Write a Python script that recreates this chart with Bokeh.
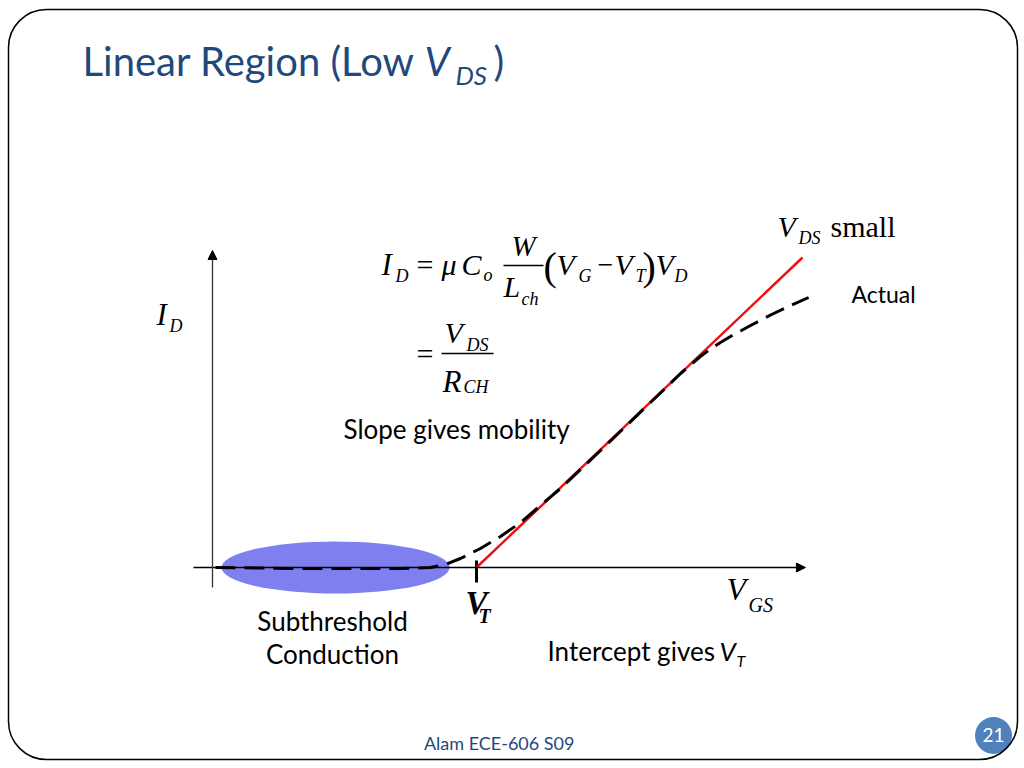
from bokeh.plotting import figure
from bokeh.models import Range1d, Arrow, NormalHead, Label, BoxAnnotation
from bokeh.embed import file_html
from bokeh.resources import INLINE

# ---------------- data (V_GS in volts, I_D in arbitrary units) ----------------
vgs_actual = [0.011, 0.333, 0.712, 0.826, 0.883, 0.939, 1.015, 1.091, 1.167, 1.242,
              1.318, 1.470, 1.659, 1.773, 1.811, 1.848, 1.886, 1.924, 1.962, 2.000,
              2.038, 2.114, 2.189, 2.258]
id_actual = [0.00, -0.01, -0.01, 0.00, 0.03, 0.09, 0.19, 0.31, 0.45, 0.62,
             0.79, 1.17, 1.65, 1.94, 2.025, 2.11, 2.185, 2.25, 2.31, 2.365,
             2.42, 2.525, 2.62, 2.70]
vgs_ideal = [1.0, 2.235]
id_ideal = [0.0, 3.10]
VT = 1.0
subthreshold_center = (0.466, 0.0)
subthreshold_size = (0.864, 0.52)
x_axis_span = (-0.072, 2.246)
y_axis_span = (-0.2, 3.17)

# ---------------- layout helpers ----------------
W, H = 1024, 768
X0, Y0 = 212, 567          # pixel position of the origin
PXV, PXI = 264.0, 100.0    # pixels per unit


def px(xp, yp):
    return ((xp - X0) / PXV, (Y0 - yp) / PXI)


p = figure(width=W, height=H, output_backend="svg", toolbar_location=None,
           x_range=Range1d(-X0 / PXV, (W - X0) / PXV),
           y_range=Range1d(-(H - Y0) / PXI, Y0 / PXI),
           x_axis_location=None, y_axis_location=None, min_border=0)
p.grid.visible = False
p.outline_line_color = None
p.background_fill_color = "white"
p.border_fill_color = "white"

SERIF = "Liberation Serif"
SANS = "Lato"
BLUE = "#1F497D"
BASE_K = 0.37   # compensation for the baseline offset of rendered labels


def lab(xp, yp, text, size, font=SANS, style="normal", color="black", align="left"):
    x, y = px(xp, yp - BASE_K * size)
    p.add_layout(Label(x=x, y=y, text=text, text_font=font, text_font_size=f"{size}px",
                       text_font_style=style, text_color=color, text_align=align,
                       text_baseline="alphabetic"))


# slide border
l, t = px(8, 9)
r, b = px(1017, 759)
p.add_layout(BoxAnnotation(left=l, right=r, top=t, bottom=b, fill_alpha=0,
                           line_color="black", line_alpha=1.0, line_width=1.5,
                           border_radius=38))

# subthreshold ellipse
p.ellipse(x=[subthreshold_center[0]], y=[subthreshold_center[1]],
          width=subthreshold_size[0], height=subthreshold_size[1],
          fill_color="#7F7FEF", line_color=None)

# axes with arrows
p.add_layout(Arrow(end=NormalHead(size=9, fill_color="black", line_color="black"),
                   x_start=x_axis_span[0], y_start=0, x_end=x_axis_span[1], y_end=0,
                   line_color="black", line_width=1.3))
p.add_layout(Arrow(end=NormalHead(size=9, fill_color="black", line_color="black"),
                   x_start=0, y_start=y_axis_span[0], x_end=0, y_end=y_axis_span[1],
                   line_color="#333333", line_width=1.3))

# V_T tick
p.segment(x0=[VT], y0=[px(0, 560)[1]], x1=[VT], y1=[px(0, 582)[1]],
          line_color="black", line_width=3)

# ideal line and actual curve
p.line(vgs_ideal, id_ideal, line_color="#EE1111", line_width=2.5)
p.line(vgs_actual, id_actual, line_color="black", line_width=3, line_dash="20 9")

# ---------------- texts ----------------
# title
lab(82, 75, "Linear Region (Low", 40, color=BLUE)
lab(424, 75, "V", 40, style="italic", color=BLUE)
lab(455, 84, "DS", 26, style="italic", color=BLUE)
lab(493, 75, ")", 40, color=BLUE)

# equation line 1
lab(381, 275, "I", 31, SERIF, "italic")
lab(395, 282, "D", 18, SERIF, "italic")
lab(416, 275, "=", 30, SERIF)
lab(441, 275, "μ", 30, SERIF, "italic")
lab(461, 275, "C", 30, SERIF, "italic")
lab(483, 281, "o", 18, SERIF, "italic")
lab(523, 256, "W", 29, SERIF, "italic", align="center")
p.segment(x0=[px(503, 0)[0]], y0=[px(0, 265)[1]], x1=[px(543, 0)[0]], y1=[px(0, 265)[1]],
          line_color="black", line_width=1.5)
lab(503, 297, "L", 30, SERIF, "italic")
lab(521, 305, "ch", 18, SERIF, "italic")
lab(543, 281, "(", 40, SERIF)
lab(556, 275, "V", 30, SERIF, "italic")
lab(578, 282, "G", 18, SERIF, "italic")
lab(597, 275, "−", 28, SERIF)
lab(614, 275, "V", 30, SERIF, "italic")
lab(635, 282, "T", 18, SERIF, "italic")
lab(642, 281, ")", 40, SERIF)
lab(655, 275, "V", 30, SERIF, "italic")
lab(674, 282, "D", 18, SERIF, "italic")

# equation line 2
lab(416, 364, "=", 30, SERIF)
p.segment(x0=[px(441, 0)[0]], y0=[px(0, 353)[1]], x1=[px(493, 0)[0]], y1=[px(0, 353)[1]],
          line_color="black", line_width=1.5)
lab(444, 343, "V", 30, SERIF, "italic")
lab(466, 351, "DS", 18, SERIF, "italic")
lab(442, 392, "R", 31, SERIF, "italic")
lab(463, 393, "CH", 18, SERIF, "italic")

# axis labels
lab(156, 325, "I", 31, SERIF, "italic")
lab(169, 332, "D", 18, SERIF, "italic")
lab(726, 600, "V", 32, SERIF, "italic")
lab(748, 612, "GS", 20, SERIF, "italic")
lab(465, 615, "V", 33, SERIF, "bold italic")
lab(478, 623, "T", 20, SERIF, "bold italic")

# annotations
lab(777, 237, "V", 30, SERIF, "italic")
lab(798, 244, "DS", 18, SERIF, "italic")
lab(830, 237, "small", 30, SERIF)
lab(851, 302, "Actual", 23)
lab(343, 438, "Slope gives mobility", 26)
lab(332, 630, "Subthreshold", 26, align="center")
lab(332, 663, "Conduction", 26, align="center")
lab(547, 660, "Intercept gives", 26)
lab(719, 660, "V", 26, style="italic")
lab(736, 666, "T", 16, style="italic")

# footer
lab(501, 749, "Alam  ECE-606 S09", 18, color=BLUE, align="center")
cx, cy = px(993, 735)
p.scatter(x=[cx], y=[cy], size=37, marker="circle", fill_color="#4F81BD", line_color=None)
lab(993, 742, "21", 19, color="white", align="center")

open("out.html", "w").write(file_html(p, INLINE))
